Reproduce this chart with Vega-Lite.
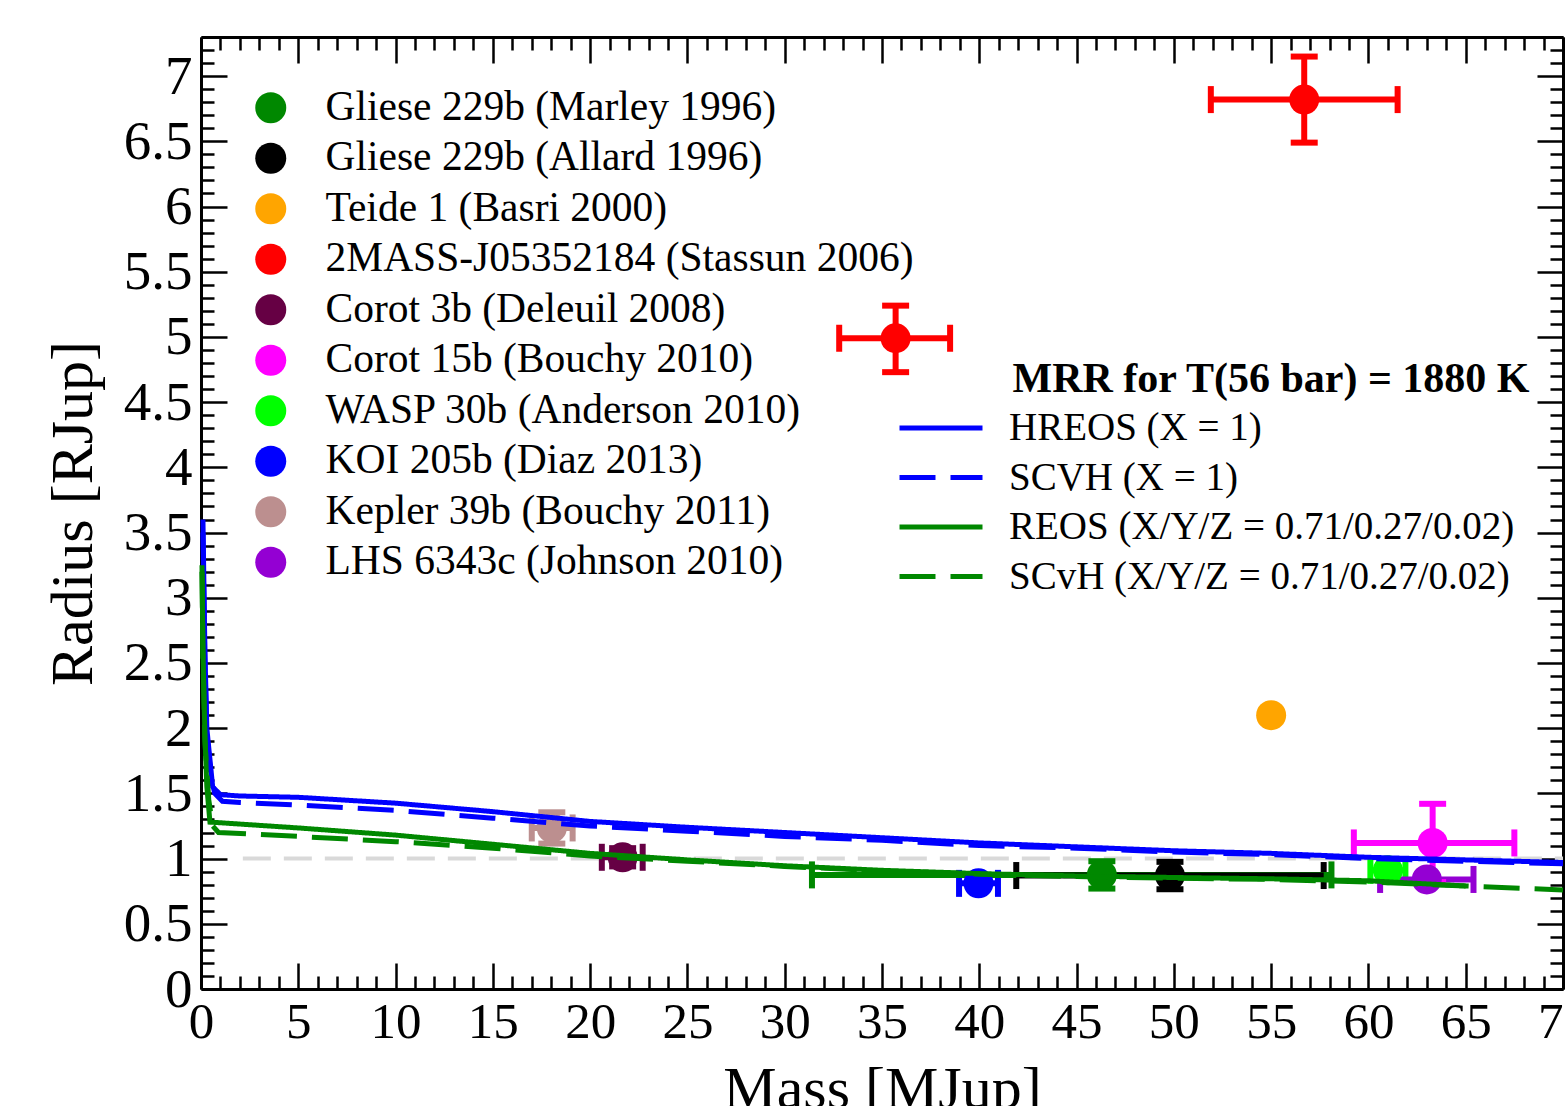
{
  "$schema": "https://vega.github.io/schema/vega-lite/v6.json",
  "width": 1362,
  "height": 952,
  "autosize": {"type": "none"},
  "padding": {"left": 201, "top": 37, "right": 2, "bottom": 117},
  "background": "white",
  "config": {
    "font": "Liberation Serif",
    "view": {"stroke": null},
    "axis": {
      "grid": false,
      "domainColor": "black",
      "domainWidth": 3,
      "tickColor": "black",
      "tickWidth": 2.5,
      "labelFont": "Liberation Serif",
      "titleFont": "Liberation Serif",
      "labelColor": "black",
      "titleColor": "black",
      "titleFontWeight": "normal"
    },
    "legend": {"labelColor": "black", "titleColor": "black"}
  },
  "datasets": {
    "ref": [{"x": 2.15, "x2": 70, "y": 1}],
    "objects": [
      {"object": "Gliese 229b (Marley 1996)", "x": 46.3, "y": 0.875, "xlo": 31.4, "xhi": 58.1, "ylo": 0.77, "yhi": 0.98},
      {"object": "Gliese 229b (Allard 1996)", "x": 49.8, "y": 0.87, "xlo": 41.9, "xhi": 57.7, "ylo": 0.765, "yhi": 0.975},
      {"object": "Teide 1 (Basri 2000)", "x": 55.0, "y": 2.1, "xlo": null, "xhi": null, "ylo": null, "yhi": null},
      {"object": "2MASS-J05352184 (Stassun 2006)", "x": 56.7, "y": 6.82, "xlo": 51.9, "xhi": 61.5, "ylo": 6.49, "yhi": 7.15},
      {"object": "2MASS-J05352184 (Stassun 2006)", "x": 35.7, "y": 4.99, "xlo": 32.8, "xhi": 38.5, "ylo": 4.73, "yhi": 5.24},
      {"object": "Corot 3b (Deleuil 2008)", "x": 21.67, "y": 1.01, "xlo": 20.6, "xhi": 22.7, "ylo": 0.94, "yhi": 1.08},
      {"object": "Corot 15b (Bouchy 2010)", "x": 63.3, "y": 1.12, "xlo": 59.25, "xhi": 67.5, "ylo": 0.82, "yhi": 1.42},
      {"object": "WASP 30b (Anderson 2010)", "x": 61.0, "y": 0.91, "xlo": 60.1, "xhi": 61.9, "ylo": 0.89, "yhi": 0.93},
      {"object": "KOI 205b (Diaz 2013)", "x": 39.96, "y": 0.81, "xlo": 38.96, "xhi": 40.96, "ylo": 0.79, "yhi": 0.83},
      {"object": "Kepler 39b (Bouchy 2011)", "x": 18.03, "y": 1.235, "xlo": 17.0, "xhi": 19.1, "ylo": 1.115, "yhi": 1.355},
      {"object": "LHS 6343c (Johnson 2010)", "x": 63.0, "y": 0.84, "xlo": 60.6, "xhi": 65.4, "ylo": 0.83, "yhi": 0.85}
    ],
    "models": [
      {"model": "HREOS (X = 1)", "x": 0.1, "y": 3.6},
      {"model": "HREOS (X = 1)", "x": 0.2, "y": 2.6},
      {"model": "HREOS (X = 1)", "x": 0.3, "y": 2.0},
      {"model": "HREOS (X = 1)", "x": 0.5, "y": 1.7},
      {"model": "HREOS (X = 1)", "x": 0.6, "y": 1.55},
      {"model": "HREOS (X = 1)", "x": 1.0, "y": 1.49},
      {"model": "HREOS (X = 1)", "x": 2, "y": 1.48},
      {"model": "HREOS (X = 1)", "x": 5, "y": 1.47},
      {"model": "HREOS (X = 1)", "x": 10, "y": 1.425},
      {"model": "HREOS (X = 1)", "x": 15, "y": 1.36},
      {"model": "HREOS (X = 1)", "x": 20, "y": 1.285},
      {"model": "HREOS (X = 1)", "x": 25, "y": 1.24},
      {"model": "HREOS (X = 1)", "x": 30, "y": 1.2},
      {"model": "HREOS (X = 1)", "x": 35, "y": 1.16},
      {"model": "HREOS (X = 1)", "x": 40, "y": 1.12},
      {"model": "HREOS (X = 1)", "x": 45, "y": 1.09},
      {"model": "HREOS (X = 1)", "x": 50, "y": 1.06},
      {"model": "HREOS (X = 1)", "x": 55, "y": 1.04},
      {"model": "HREOS (X = 1)", "x": 60, "y": 1.01},
      {"model": "HREOS (X = 1)", "x": 65, "y": 0.99},
      {"model": "HREOS (X = 1)", "x": 70, "y": 0.97},
      {"model": "SCVH (X = 1)", "x": 0.1, "y": 3.5},
      {"model": "SCVH (X = 1)", "x": 0.2, "y": 2.5},
      {"model": "SCVH (X = 1)", "x": 0.3, "y": 1.95},
      {"model": "SCVH (X = 1)", "x": 0.5, "y": 1.65},
      {"model": "SCVH (X = 1)", "x": 0.7, "y": 1.5},
      {"model": "SCVH (X = 1)", "x": 1.1, "y": 1.44},
      {"model": "SCVH (X = 1)", "x": 2, "y": 1.43},
      {"model": "SCVH (X = 1)", "x": 5, "y": 1.41},
      {"model": "SCVH (X = 1)", "x": 10, "y": 1.37},
      {"model": "SCVH (X = 1)", "x": 15, "y": 1.31},
      {"model": "SCVH (X = 1)", "x": 20, "y": 1.25},
      {"model": "SCVH (X = 1)", "x": 25, "y": 1.21},
      {"model": "SCVH (X = 1)", "x": 30, "y": 1.17},
      {"model": "SCVH (X = 1)", "x": 35, "y": 1.14},
      {"model": "SCVH (X = 1)", "x": 40, "y": 1.1},
      {"model": "SCVH (X = 1)", "x": 45, "y": 1.08},
      {"model": "SCVH (X = 1)", "x": 50, "y": 1.05},
      {"model": "SCVH (X = 1)", "x": 55, "y": 1.03},
      {"model": "SCVH (X = 1)", "x": 60, "y": 1.0},
      {"model": "SCVH (X = 1)", "x": 65, "y": 0.98},
      {"model": "SCVH (X = 1)", "x": 70, "y": 0.96},
      {"model": "REOS (X/Y/Z = 0.71/0.27/0.02)", "x": 0.05, "y": 3.25},
      {"model": "REOS (X/Y/Z = 0.71/0.27/0.02)", "x": 0.1, "y": 2.6},
      {"model": "REOS (X/Y/Z = 0.71/0.27/0.02)", "x": 0.2, "y": 1.95},
      {"model": "REOS (X/Y/Z = 0.71/0.27/0.02)", "x": 0.3, "y": 1.55},
      {"model": "REOS (X/Y/Z = 0.71/0.27/0.02)", "x": 0.46, "y": 1.28},
      {"model": "REOS (X/Y/Z = 0.71/0.27/0.02)", "x": 5, "y": 1.235},
      {"model": "REOS (X/Y/Z = 0.71/0.27/0.02)", "x": 10, "y": 1.18},
      {"model": "REOS (X/Y/Z = 0.71/0.27/0.02)", "x": 15, "y": 1.11},
      {"model": "REOS (X/Y/Z = 0.71/0.27/0.02)", "x": 20, "y": 1.04},
      {"model": "REOS (X/Y/Z = 0.71/0.27/0.02)", "x": 25, "y": 0.99},
      {"model": "REOS (X/Y/Z = 0.71/0.27/0.02)", "x": 30, "y": 0.945},
      {"model": "REOS (X/Y/Z = 0.71/0.27/0.02)", "x": 35, "y": 0.91},
      {"model": "REOS (X/Y/Z = 0.71/0.27/0.02)", "x": 40, "y": 0.885},
      {"model": "REOS (X/Y/Z = 0.71/0.27/0.02)", "x": 45, "y": 0.867},
      {"model": "REOS (X/Y/Z = 0.71/0.27/0.02)", "x": 50, "y": 0.855},
      {"model": "REOS (X/Y/Z = 0.71/0.27/0.02)", "x": 55, "y": 0.845},
      {"model": "REOS (X/Y/Z = 0.71/0.27/0.02)", "x": 60, "y": 0.83},
      {"model": "REOS (X/Y/Z = 0.71/0.27/0.02)", "x": 65, "y": 0.79},
      {"model": "SCvH (X/Y/Z = 0.71/0.27/0.02)", "x": 0.05, "y": 3.2},
      {"model": "SCvH (X/Y/Z = 0.71/0.27/0.02)", "x": 0.1, "y": 2.55},
      {"model": "SCvH (X/Y/Z = 0.71/0.27/0.02)", "x": 0.2, "y": 1.9},
      {"model": "SCvH (X/Y/Z = 0.71/0.27/0.02)", "x": 0.4, "y": 1.45},
      {"model": "SCvH (X/Y/Z = 0.71/0.27/0.02)", "x": 0.6, "y": 1.25},
      {"model": "SCvH (X/Y/Z = 0.71/0.27/0.02)", "x": 0.9, "y": 1.2},
      {"model": "SCvH (X/Y/Z = 0.71/0.27/0.02)", "x": 5, "y": 1.17},
      {"model": "SCvH (X/Y/Z = 0.71/0.27/0.02)", "x": 10, "y": 1.13},
      {"model": "SCvH (X/Y/Z = 0.71/0.27/0.02)", "x": 15, "y": 1.08},
      {"model": "SCvH (X/Y/Z = 0.71/0.27/0.02)", "x": 20, "y": 1.02},
      {"model": "SCvH (X/Y/Z = 0.71/0.27/0.02)", "x": 25, "y": 0.98},
      {"model": "SCvH (X/Y/Z = 0.71/0.27/0.02)", "x": 30, "y": 0.94},
      {"model": "SCvH (X/Y/Z = 0.71/0.27/0.02)", "x": 35, "y": 0.905},
      {"model": "SCvH (X/Y/Z = 0.71/0.27/0.02)", "x": 40, "y": 0.88},
      {"model": "SCvH (X/Y/Z = 0.71/0.27/0.02)", "x": 45, "y": 0.862},
      {"model": "SCvH (X/Y/Z = 0.71/0.27/0.02)", "x": 50, "y": 0.85},
      {"model": "SCvH (X/Y/Z = 0.71/0.27/0.02)", "x": 55, "y": 0.84},
      {"model": "SCvH (X/Y/Z = 0.71/0.27/0.02)", "x": 60, "y": 0.82},
      {"model": "SCvH (X/Y/Z = 0.71/0.27/0.02)", "x": 65, "y": 0.79},
      {"model": "SCvH (X/Y/Z = 0.71/0.27/0.02)", "x": 70, "y": 0.76}
    ]
  },
  "layer": [
    {
      "data": {"name": "ref"},
      "mark": {"type": "rule", "stroke": "#d9d9d9", "strokeWidth": 4, "strokeDash": [28, 13]},
      "encoding": {
        "x": {
          "field": "x", "type": "quantitative",
          "scale": {"domain": [0, 70], "nice": false, "zero": false},
          "axis": {
            "orient": "bottom",
            "values": [0,1,2,3,4,5,6,7,8,9,10,11,12,13,14,15,16,17,18,19,20,21,22,23,24,25,26,27,28,29,30,31,32,33,34,35,36,37,38,39,40,41,42,43,44,45,46,47,48,49,50,51,52,53,54,55,56,57,58,59,60,61,62,63,64,65,66,67,68,69,70],
            "tickSize": {"condition": {"test": "datum.value % 5 === 0", "value": -26}, "value": -13},
            "labelExpr": "datum.value % 5 === 0 ? datum.label : ''",
            "format": "~g",
            "labelFontSize": 51,
            "labelPadding": 34,
            "labelOverlap": false,
            "labelFlush": false,
            "labelBound": false,
            "title": "Mass [MJup]",
            "titleFontSize": 60,
            "titlePadding": 0
          }
        },
        "x2": {"field": "x2"},
        "y": {
          "field": "y", "type": "quantitative",
          "scale": {"domain": [0, 7.3], "nice": false, "zero": false},
          "axis": {
            "orient": "left",
            "values": [0,0.1,0.2,0.3,0.4,0.5,0.6,0.7,0.8,0.9,1,1.1,1.2,1.3,1.4,1.5,1.6,1.7,1.8,1.9,2,2.1,2.2,2.3,2.4,2.5,2.6,2.7,2.8,2.9,3,3.1,3.2,3.3,3.4,3.5,3.6,3.7,3.8,3.9,4,4.1,4.2,4.3,4.4,4.5,4.6,4.7,4.8,4.9,5,5.1,5.2,5.3,5.4,5.5,5.6,5.7,5.8,5.9,6,6.1,6.2,6.3,6.4,6.5,6.6,6.7,6.8,6.9,7,7.1,7.2,7.3],
            "tickSize": {"condition": {"test": "abs(datum.value * 2 - round(datum.value * 2)) < 0.001", "value": -26}, "value": -13},
            "labelExpr": "abs(datum.value * 2 - round(datum.value * 2)) < 0.001 ? datum.label : ''",
            "format": "~g",
            "labelFontSize": 55,
            "labelPadding": 35,
            "labelOverlap": false,
            "labelFlush": false,
            "labelBound": false,
            "title": "Radius [RJup]",
            "titleFontSize": 60,
            "titlePadding": 19
          }
        }
      }
    },
    {
      "data": {"name": "objects"},
      "transform": [{"filter": "datum.xlo != null"}],
      "mark": {"type": "errorbar", "ticks": {"opacity": 1}, "rule": {"opacity": 1}, "size": 27, "thickness": 6},
      "encoding": {
        "x": {"field": "xlo", "type": "quantitative", "scale": {"domain": [0, 70], "nice": false, "zero": false}, "axis": null},
        "x2": {"field": "xhi"},
        "y": {"field": "y", "type": "quantitative", "scale": {"domain": [0, 7.3], "nice": false, "zero": false}, "axis": null},
        "color": {
          "field": "object", "type": "nominal", "legend": null,
          "scale": {
            "domain": ["Gliese 229b (Marley 1996)", "Gliese 229b (Allard 1996)", "Teide 1 (Basri 2000)", "2MASS-J05352184 (Stassun 2006)", "Corot 3b (Deleuil 2008)", "Corot 15b (Bouchy 2010)", "WASP 30b (Anderson 2010)", "KOI 205b (Diaz 2013)", "Kepler 39b (Bouchy 2011)", "LHS 6343c (Johnson 2010)"],
            "range": ["#008800", "#000000", "#ffa500", "#ff0000", "#660044", "#ff00ff", "#00ff00", "#0000ff", "#bc8f8f", "#9400d3"]
          }
        }
      }
    },
    {
      "data": {"name": "objects"},
      "transform": [{"filter": "datum.ylo != null"}],
      "mark": {"type": "errorbar", "ticks": {"opacity": 1}, "rule": {"opacity": 1}, "size": 27, "thickness": 6},
      "encoding": {
        "y": {"field": "ylo", "type": "quantitative", "scale": {"domain": [0, 7.3], "nice": false, "zero": false}, "axis": null},
        "y2": {"field": "yhi"},
        "x": {"field": "x", "type": "quantitative", "scale": {"domain": [0, 70], "nice": false, "zero": false}, "axis": null},
        "color": {
          "field": "object", "type": "nominal", "legend": null,
          "scale": {
            "domain": ["Gliese 229b (Marley 1996)", "Gliese 229b (Allard 1996)", "Teide 1 (Basri 2000)", "2MASS-J05352184 (Stassun 2006)", "Corot 3b (Deleuil 2008)", "Corot 15b (Bouchy 2010)", "WASP 30b (Anderson 2010)", "KOI 205b (Diaz 2013)", "Kepler 39b (Bouchy 2011)", "LHS 6343c (Johnson 2010)"],
            "range": ["#008800", "#000000", "#ffa500", "#ff0000", "#660044", "#ff00ff", "#00ff00", "#0000ff", "#bc8f8f", "#9400d3"]
          }
        }
      }
    },
    {
      "data": {"name": "objects"},
      "mark": {"type": "circle", "size": 900, "opacity": 1},
      "encoding": {
        "x": {"field": "x", "type": "quantitative", "scale": {"domain": [0, 70], "nice": false, "zero": false}, "axis": null},
        "y": {"field": "y", "type": "quantitative", "scale": {"domain": [0, 7.3], "nice": false, "zero": false}, "axis": null},
        "color": {
          "field": "object", "type": "nominal",
          "scale": {
            "domain": ["Gliese 229b (Marley 1996)", "Gliese 229b (Allard 1996)", "Teide 1 (Basri 2000)", "2MASS-J05352184 (Stassun 2006)", "Corot 3b (Deleuil 2008)", "Corot 15b (Bouchy 2010)", "WASP 30b (Anderson 2010)", "KOI 205b (Diaz 2013)", "Kepler 39b (Bouchy 2011)", "LHS 6343c (Johnson 2010)"],
            "range": ["#008800", "#000000", "#ffa500", "#ff0000", "#660044", "#ff00ff", "#00ff00", "#0000ff", "#bc8f8f", "#9400d3"]
          },
          "legend": {
            "orient": "none",
            "legendX": 49,
            "legendY": 50,
            "title": null,
            "padding": 0,
            "symbolType": "circle",
            "symbolSize": 961,
            "symbolStrokeWidth": 0,
            "symbolOpacity": 1,
            "labelFont": "Liberation Serif",
            "labelFontSize": 41.5,
            "labelOffset": 34,
            "labelLimit": 0,
            "rowPadding": 7.5
          }
        }
      }
    },
    {
      "data": {"name": "models"},
      "mark": {"type": "line", "strokeWidth": 5},
      "encoding": {
        "x": {
          "field": "x", "type": "quantitative",
          "scale": {"domain": [0, 70], "nice": false, "zero": false},
          "axis": {
            "orient": "top",
            "values": [0,1,2,3,4,5,6,7,8,9,10,11,12,13,14,15,16,17,18,19,20,21,22,23,24,25,26,27,28,29,30,31,32,33,34,35,36,37,38,39,40,41,42,43,44,45,46,47,48,49,50,51,52,53,54,55,56,57,58,59,60,61,62,63,64,65,66,67,68,69,70],
            "tickSize": {"condition": {"test": "datum.value % 5 === 0", "value": -26}, "value": -13},
            "labels": false,
            "title": null
          }
        },
        "y": {
          "field": "y", "type": "quantitative",
          "scale": {"domain": [0, 7.3], "nice": false, "zero": false},
          "axis": {
            "orient": "right",
            "values": [0,0.1,0.2,0.3,0.4,0.5,0.6,0.7,0.8,0.9,1,1.1,1.2,1.3,1.4,1.5,1.6,1.7,1.8,1.9,2,2.1,2.2,2.3,2.4,2.5,2.6,2.7,2.8,2.9,3,3.1,3.2,3.3,3.4,3.5,3.6,3.7,3.8,3.9,4,4.1,4.2,4.3,4.4,4.5,4.6,4.7,4.8,4.9,5,5.1,5.2,5.3,5.4,5.5,5.6,5.7,5.8,5.9,6,6.1,6.2,6.3,6.4,6.5,6.6,6.7,6.8,6.9,7,7.1,7.2,7.3],
            "tickSize": {"condition": {"test": "abs(datum.value * 2 - round(datum.value * 2)) < 0.001", "value": -26}, "value": -13},
            "labels": false,
            "title": null
          }
        },
        "color": {
          "field": "model", "type": "nominal",
          "scale": {
            "domain": ["HREOS (X = 1)", "SCVH (X = 1)", "REOS (X/Y/Z = 0.71/0.27/0.02)", "SCvH (X/Y/Z = 0.71/0.27/0.02)"],
            "range": ["#0000ff", "#0000ff", "#008800", "#008800"]
          },
          "legend": {
            "orient": "none",
            "legendX": 696,
            "legendY": 322,
            "title": "\u200b\u00a0\u00a0\u00a0\u00a0\u00a0\u00a0\u00a0\u00a0\u00a0\u00a0\u00a0MRR for T(56 bar) = 1880 K",
            "titleFont": "Liberation Serif",
            "titleFontSize": 42,
            "titleFontWeight": "bold",
            "titlePadding": 6.5,
            "titleLimit": 0,
            "padding": 0,
            "symbolType": "stroke",
            "symbolSize": 6889,
            "symbolStrokeWidth": 5,
            "clipHeight": 41,
            "labelFont": "Liberation Serif",
            "labelFontSize": 39,
            "labelOffset": 24,
            "labelLimit": 0,
            "rowPadding": 8.5
          }
        },
        "strokeDash": {
          "field": "model", "type": "nominal",
          "scale": {
            "domain": ["HREOS (X = 1)", "SCVH (X = 1)", "REOS (X/Y/Z = 0.71/0.27/0.02)", "SCvH (X/Y/Z = 0.71/0.27/0.02)"],
            "range": [[1, 0], [36, 15], [1, 0], [36, 15]]
          },
          "legend": {
            "orient": "none",
            "legendX": 696,
            "legendY": 322,
            "title": "\u200b\u00a0\u00a0\u00a0\u00a0\u00a0\u00a0\u00a0\u00a0\u00a0\u00a0\u00a0MRR for T(56 bar) = 1880 K",
            "titleFont": "Liberation Serif",
            "titleFontSize": 42,
            "titleFontWeight": "bold",
            "titlePadding": 6.5,
            "titleLimit": 0,
            "padding": 0,
            "symbolType": "stroke",
            "symbolSize": 6889,
            "symbolStrokeWidth": 5,
            "clipHeight": 41,
            "labelFont": "Liberation Serif",
            "labelFontSize": 39,
            "labelOffset": 24,
            "labelLimit": 0,
            "rowPadding": 8.5
          }
        }
      }
    }
  ],
  "resolve": {
    "scale": {"color": "independent", "strokeDash": "independent"},
    "axis": {"x": "independent", "y": "independent"}
  }
}
